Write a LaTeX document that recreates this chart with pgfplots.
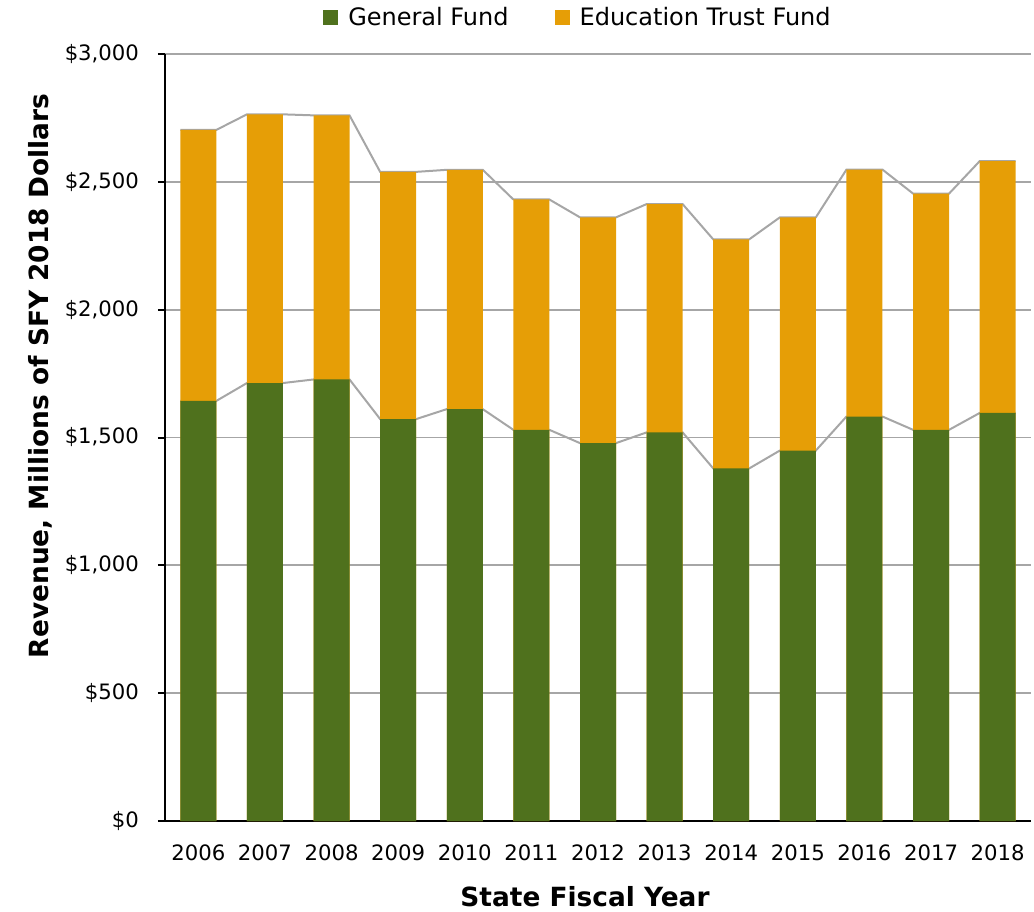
\documentclass[border=0pt]{standalone}
\usepackage{fontspec}
\setmainfont{DejaVu Sans}
\usepackage{pgfplots}
\usepackage{pgfplotstable}
\pgfplotsset{compat=1.18}

\definecolor{gfgreen}{RGB}{79,113,29}
\definecolor{etforange}{RGB}{230,158,6}
\definecolor{linegray}{RGB}{166,166,166}

% revenue, millions of SFY 2018 dollars
\pgfplotstableread{
x year gen  edu
0  2006 1643 1060
1  2007 1713 1051
2  2008 1727 1033
3  2009 1572 967
4  2010 1611 936
5  2011 1530 901
6  2012 1478 883
7  2013 1520 893
8  2014 1379 896
9  2015 1449 912
10 2016 1582 966
11 2017 1530 924
12 2018 1596 985
}\revenue

\begin{document}
\begin{tikzpicture}
\begin{axis}[
    scale only axis,
    width=433pt, height=383.5pt,
    xmin=-0.5, xmax=12.5,
    ymin=0, ymax=3000,
    axis lines=left,
    axis line style={black, line width=1pt, -},
    xtick={0,...,12},
    xticklabels={2006,2007,2008,2009,2010,2011,2012,2013,2014,2015,2016,2017,2018},
    x tick style={draw=none},
    ytick={0,500,...,3000},
    y tick style={black, line width=1pt},
    tick align=outside,
    major tick length=3.5pt,
    yticklabel={\$\pgfmathprintnumber{\tick}},
    /pgf/number format/assume math mode=true,
    /pgf/number format/1000 sep={,},
    ticklabel style={font=\fontsize{10.6}{12}\selectfont},
    yticklabel style={xshift=-6pt},
    xticklabel style={yshift=-5pt},
    ymajorgrids,
    grid style={linegray, line width=0.9pt},
    xlabel={State Fiscal Year},
    xlabel style={font=\bfseries\fontsize{13.2}{15}\selectfont, at={(rel axis cs:0.485,-0.099)}, anchor=center},
    ylabel={Revenue, Millions of SFY 2018 Dollars},
    ylabel style={font=\bfseries\fontsize{13.2}{15}\selectfont, at={(rel axis cs:-0.1445,0.58)}, anchor=center},
    legend columns=2,
    legend style={at={(rel axis cs:0.478,1.047)}, anchor=center, draw=none,
        font=\fontsize{12}{14}\selectfont,
        /tikz/every even column/.append style={column sep=21pt}},
    legend image code/.code={\fill[#1] (0pt,-3.75pt) rectangle (7.5pt,3.75pt); \path (10.5pt,0pt);},
]
\addlegendimage{fill=gfgreen, draw=none}
\addlegendentry{General Fund}
\addlegendimage{fill=etforange, draw=none}
\addlegendentry{Education Trust Fund}

% series lines between bar tops
\addplot[linegray, line width=1pt, forget plot] coordinates {
(-0.27,1643) (0.27,1643) (0.73,1713) (1.27,1713) (1.73,1727) (2.27,1727)
(2.73,1572) (3.27,1572) (3.73,1611) (4.27,1611) (4.73,1530) (5.27,1530)
(5.73,1478) (6.27,1478) (6.73,1520) (7.27,1520) (7.73,1379) (8.27,1379)
(8.73,1449) (9.27,1449) (9.73,1582) (10.27,1582) (10.73,1530) (11.27,1530)
(11.73,1596) (12.27,1596)
};
\addplot[linegray, line width=1pt, forget plot] coordinates {
(-0.27,2703) (0.27,2703) (0.73,2764) (1.27,2764) (1.73,2760) (2.27,2760)
(2.73,2539) (3.27,2539) (3.73,2547) (4.27,2547) (4.73,2431) (5.27,2431)
(5.73,2361) (6.27,2361) (6.73,2413) (7.27,2413) (7.73,2275) (8.27,2275)
(8.73,2361) (9.27,2361) (9.73,2548) (10.27,2548) (10.73,2454) (11.27,2454)
(11.73,2581) (12.27,2581)
};

% total bar (education on top), then general fund over it
\addplot[ybar, bar width=18pt, bar shift=0pt, fill=etforange, draw=none, forget plot]
    table[x=x, y expr=\thisrow{gen}+\thisrow{edu}] {\revenue};
\addplot[ybar, bar width=18pt, bar shift=0pt, fill=gfgreen, draw=none, forget plot]
    table[x=x, y=gen] {\revenue};
\end{axis}
\pgfresetboundingbox
\path[use as bounding box] ([shift={(-82.5pt,-45pt)}]current axis.south west)
    rectangle ([shift={(434.5pt,410.5pt)}]current axis.south west);
\end{tikzpicture}
\end{document}
